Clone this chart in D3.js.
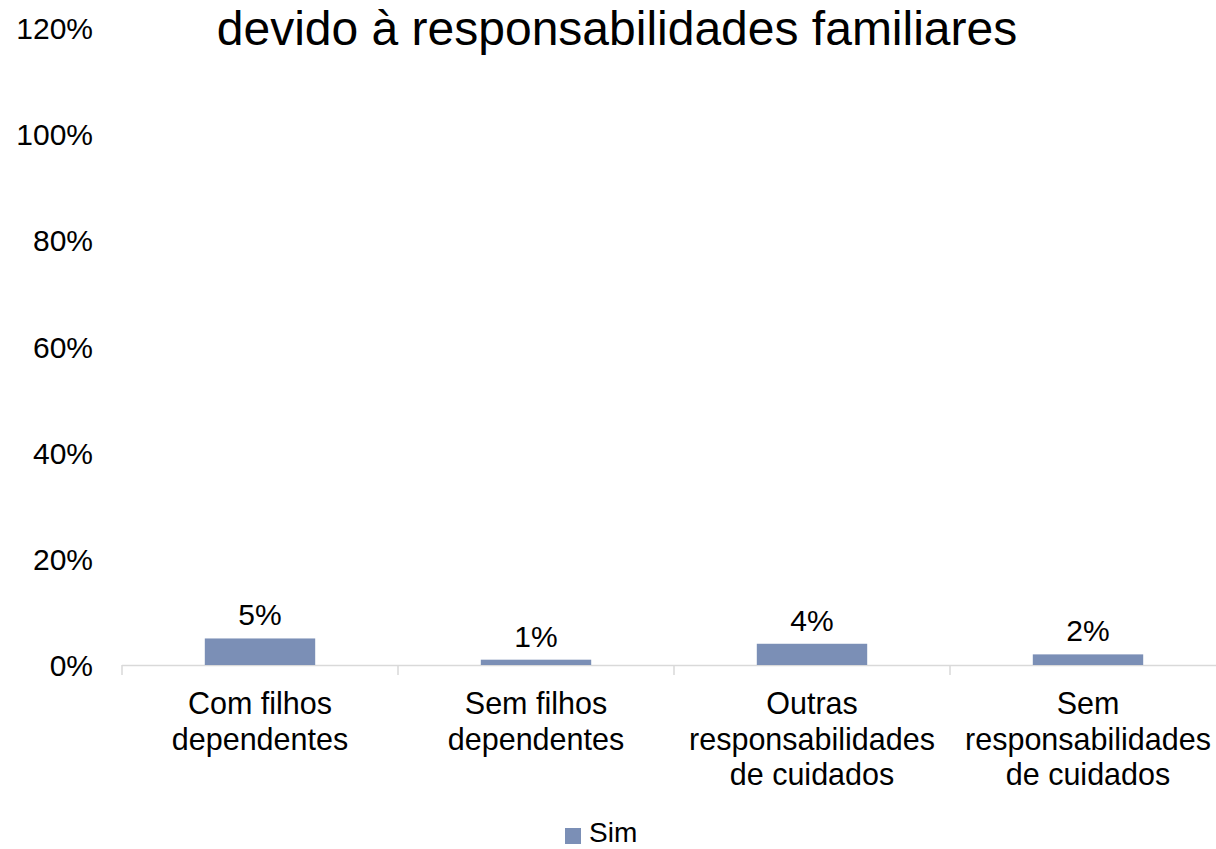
<!DOCTYPE html>
<html><head><meta charset="utf-8">
<script src="https://cdn.jsdelivr.net/npm/d3@7"></script>
<style>html,body{margin:0;padding:0;background:#fff;overflow:hidden}svg{display:block}</style>
</head><body>
<svg id="c" width="1216" height="849"></svg>
<script>
const categories = [["Com filhos","dependentes"],["Sem filhos","dependentes"],["Outras","responsabilidades","de cuidados"],["Sem","responsabilidades","de cuidados"]];
const simValues = [0.05, 0.01, 0.04, 0.02];
const yTicks = [0, 0.2, 0.4, 0.6, 0.8, 1.0, 1.2];
const titleText = "devido à responsabilidades familiares";
const seriesName = "Sim";

const svg = d3.select("#c");
const font = "'Liberation Sans', Arial, sans-serif";
const color = "#7b8fb6";
const keys = categories.map((d,i)=>i);

const x = d3.scaleBand().domain(keys).range([122, 1226]).paddingInner(0.6).paddingOuter(0.3);
const y = d3.scaleLinear().domain([0, 1.2]).range([665, 28]);

// title
svg.append("text").attr("x", 617).attr("y", 45).attr("text-anchor","middle")
  .attr("font-family", font).attr("font-size", 48).attr("fill","#000").text(titleText);

// y axis labels
const yAxis = d3.axisLeft(y).tickValues(yTicks).tickFormat(d3.format(".0%")).tickSize(0).tickPadding(0);
const gy = svg.append("g").attr("transform","translate(93,0)").call(yAxis);
gy.select(".domain").remove();
gy.selectAll("text").attr("font-family", font).attr("font-size", 30).attr("fill","#000").attr("dy","0.35em");

// x axis line and ticks
const step = x.step();
const x0 = x.range()[0];
svg.append("line").attr("x1", x0).attr("x2", x.range()[1]).attr("y1", 665.5).attr("y2", 665.5)
  .attr("stroke","#d9d9d9").attr("stroke-width",1.5);
svg.selectAll(".tk").data(d3.range(keys.length+1)).join("line")
  .attr("x1", i=>x0+i*step).attr("x2", i=>x0+i*step).attr("y1",665).attr("y2",675)
  .attr("stroke","#d9d9d9").attr("stroke-width",1.5);

// bars
svg.selectAll(".bar").data(simValues).join("rect")
  .attr("x", (d,i)=>x(i)).attr("width", x.bandwidth())
  .attr("y", d=>y(d)).attr("height", d=>y(0)-y(d)).attr("fill", color);

// data labels
svg.selectAll(".lbl").data(simValues).join("text")
  .attr("x",(d,i)=>x(i)+x.bandwidth()/2).attr("y", d=>y(d)-13)
  .attr("text-anchor","middle").attr("font-family",font).attr("font-size",30).attr("fill","#000")
  .text(d=>d3.format(".0%")(d));

// category labels
categories.forEach((lines,i)=>{
  const t = svg.append("text").attr("text-anchor","middle").attr("font-family",font).attr("font-size",30.5).attr("fill","#000");
  lines.forEach((ln,j)=>{
    t.append("tspan").attr("x", x(i)+x.bandwidth()/2).attr("y", 714+j*35.5).text(ln);
  });
});

// legend
svg.append("rect").attr("x",565).attr("y",828).attr("width",16).attr("height",16).attr("fill",color);
svg.append("text").attr("x",589).attr("y",842).attr("font-family",font).attr("font-size",28).attr("fill","#000").text(seriesName);
</script>
</body></html>
